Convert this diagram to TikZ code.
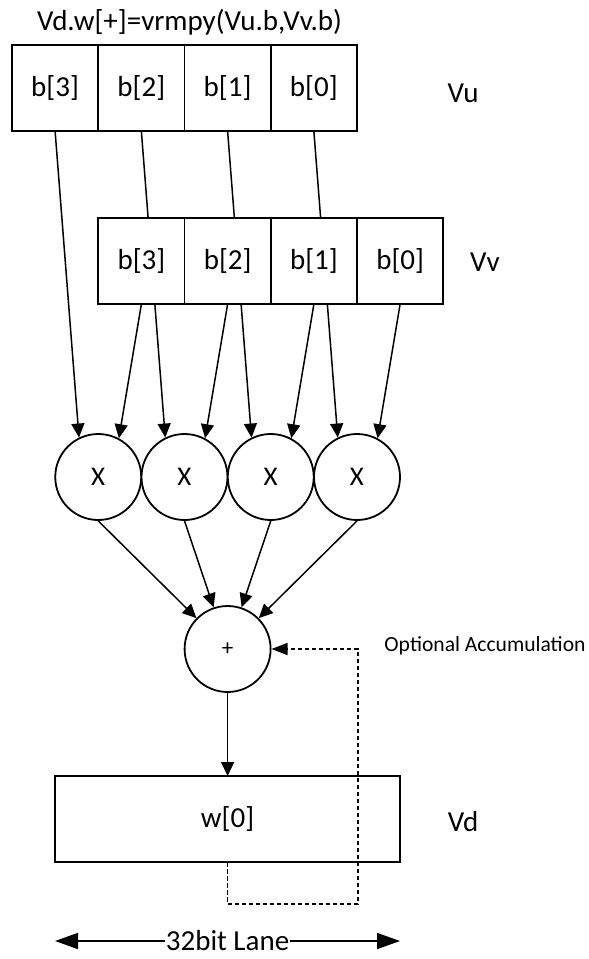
\documentclass[tikz,border=0pt]{standalone}
\usepackage{fontspec}
\setmainfont{Carlito}
\usetikzlibrary{arrows.meta, positioning, calc}

\begin{document}
\begin{tikzpicture}[x=1pt, y=-1pt,
  cell/.style={draw, fill=white, line width=1.8pt, minimum width=86.25pt, minimum height=86pt, inner sep=0pt, outer sep=0pt, font=\fontsize{29}{33}\selectfont},
  op/.style={draw, fill=white, circle, line width=1.8pt, minimum size=86pt, inner sep=0pt, font=\fontsize{27}{31}\selectfont},
  lbl/.style={inner sep=0pt, font=\fontsize{29}{33}\selectfont},
  link/.style={line width=1.5pt, -{Triangle[length=14pt, width=13pt]}},
  accum/.style={line width=1.3pt, dash pattern=on 4.5pt off 2.5pt, -{Triangle[length=16pt, width=12pt]}},
  lane/.style={line width=1.5pt, -{Triangle[length=23pt, width=16pt]}}]
  \useasboundingbox (0,0) rectangle (589,959);

  % Vu register
  \node[lbl] (title) at (189.5,22) {Vd.w[+]=vrmpy(Vu.b,Vv.b)};
  \node[cell] (vu3) at (55.1,88) {b[3]};
  \node[cell, right=0pt of vu3] (vu2) {b[2]};
  \node[cell, right=0pt of vu2] (vu1) {b[1]};
  \node[cell, right=0pt of vu1] (vu0) {b[0]};
  \node[lbl] (vulbl) at (463,93) {Vu};

  % multipliers
  \node[op] (mul1) at (98.25,477) {X};
  \node[op] (mul2) at (184.5,477) {X};
  \node[op] (mul3) at (270.75,477) {X};
  \node[op] (mul4) at (357,477) {X};

  % Vu bytes run behind Vv
  \draw[link] (vu3.south) -- (mul1.116);
  \draw[link] (vu2.south) -- (mul2.116);
  \draw[link] (vu1.south) -- (mul3.116);
  \draw[link] (vu0.south) -- (mul4.116);

  % Vv register
  \node[cell] (vv3) at (141.4,261) {b[3]};
  \node[cell, right=0pt of vv3] (vv2) {b[2]};
  \node[cell, right=0pt of vv2] (vv1) {b[1]};
  \node[cell, right=0pt of vv1] (vv0) {b[0]};
  \node[lbl] (vvlbl) at (485,262) {Vv};

  \draw[link] (vv3.south) -- (mul1.62);
  \draw[link] (vv2.south) -- (mul2.62);
  \draw[link] (vv1.south) -- (mul3.62);
  \draw[link] (vv0.south) -- (mul4.62);

  % sum of products
  \node[op, font=\fontsize{23}{27}\selectfont] (acc) at (227.6,649) {+};
  \draw[link] (mul1.south) -- (acc);
  \draw[link] (mul2.south) -- (acc);
  \draw[link] (mul3.south) -- (acc);
  \draw[link] (mul4.south) -- (acc);
  \node[inner sep=0pt, font=\fontsize{21.6}{25}\selectfont] (acclbl) at (485,646) {Optional Accumulation};

  % Vd register
  \node[cell, minimum width=345pt] (vd) at (227.6,819) {w[0]};
  \node[lbl] (vdlbl) at (463,822) {Vd};
  \draw[link] (acc) -- (vd);
  \draw[accum] (vd.south) -- ++(0,42) -| ($(acc.east)+(86.4,0)$) -- (acc.east);

  % lane width
  \node[inner sep=1pt, font=\fontsize{29}{33}\selectfont] (lane) at (227.6,941) {32bit Lane};
  \coordinate (laneL) at (55,941);
  \coordinate (laneR) at (400,941);
  \draw[lane] (lane) -- (laneL);
  \draw[lane] (lane) -- (laneR);
\end{tikzpicture}
\end{document}
